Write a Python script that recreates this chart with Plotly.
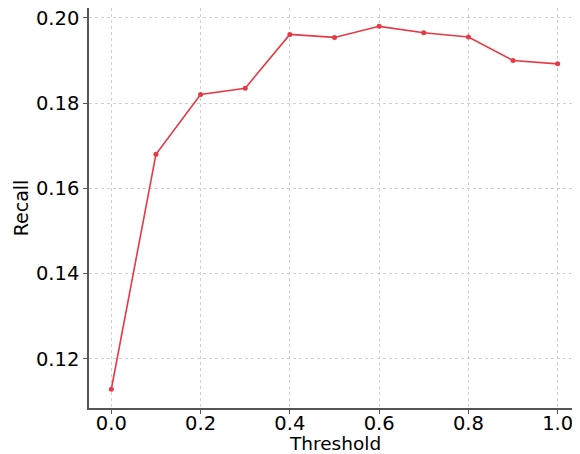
import plotly.graph_objects as go

thresholds = [0.0, 0.1, 0.2, 0.3, 0.4, 0.5, 0.6, 0.7, 0.8, 0.9, 1.0]
recall = [0.1129, 0.1680, 0.1820, 0.1835, 0.1961, 0.1954, 0.1980, 0.1965, 0.1955, 0.1900, 0.1892]

x_ticks = [0.0, 0.2, 0.4, 0.6, 0.8, 1.0]
x_tick_labels = ["0.0", "0.2", "0.4", "0.6", "0.8", "1.0"]
y_ticks = [0.12, 0.14, 0.16, 0.18, 0.20]
y_tick_labels = ["0.12", "0.14", "0.16", "0.18", "0.20"]

fig = go.Figure()
fig.add_trace(go.Scatter(
    x=thresholds, y=recall, mode="lines+markers",
    line=dict(color="#e63946", width=1.6),
    marker=dict(color="#e63946", size=5),
    showlegend=False,
))

axis_common = dict(
    showgrid=True, gridcolor="#d0d0d0", griddash="dot", gridwidth=1,
    showline=True, linecolor="#555555", linewidth=1.5,
    ticks="outside", ticklen=4, tickcolor="#555555",
    zeroline=False, automargin=False, ticklabeloverflow="allow",
    tickfont=dict(family="DejaVu Sans", size=19.5, color="black"),
)

fig.update_xaxes(
    range=[-0.05, 1.05], tickvals=x_ticks, ticktext=x_tick_labels,
    ticklabelstandoff=-7,
    **axis_common,
)
fig.update_yaxes(
    range=[0.1085, 0.2023], tickvals=y_ticks, ticktext=y_tick_labels,
    title=dict(text="Recall", font=dict(family="DejaVu Sans", size=19, color="black"), standoff=2),
    **axis_common,
)

fig.add_annotation(
    text="Threshold", xref="paper", yref="paper", x=0.5, y=0,
    xanchor="center", yanchor="top", yshift=-24, showarrow=False,
    borderpad=0,
    font=dict(family="DejaVu Sans", size=18.5, color="black"),
)

fig.update_layout(
    width=572, height=446,
    margin=dict(l=81, r=0, t=0, b=46),
    plot_bgcolor="white", paper_bgcolor="white",
    font=dict(family="DejaVu Sans"),
)

fig.write_html("out.html")
